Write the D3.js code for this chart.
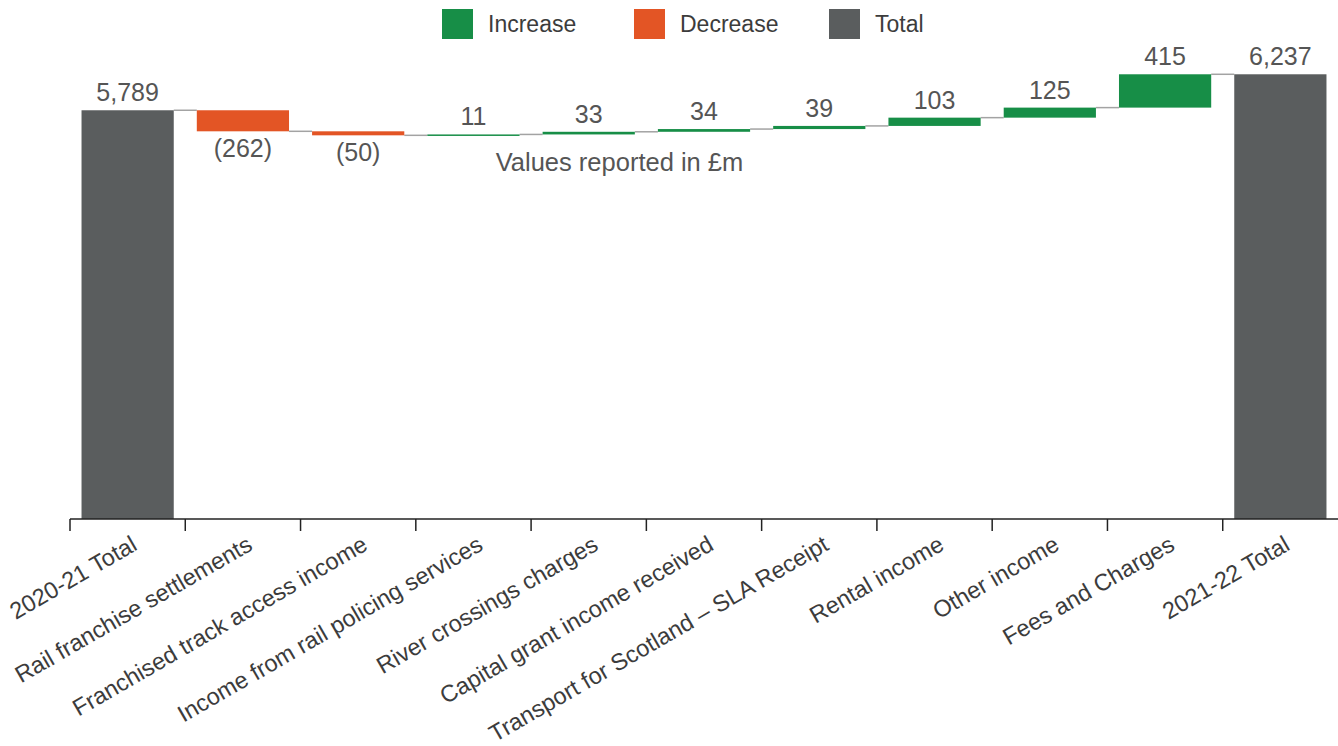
<!DOCTYPE html>
<html>
<head>
<meta charset="utf-8">
<script src="https://cdn.jsdelivr.net/npm/d3@7"></script>
<style>
  html, body { margin: 0; padding: 0; background: #fff; }
  svg { display: block; font-family: "Liberation Sans", Arial, sans-serif; }
</style>
</head>
<body>
<svg id="chart" width="1338" height="746"></svg>
<script>
// Income bridge, 2020-21 to 2021-22 (£m)
const openingLabel = "2020-21 Total";
const openingTotal = 5789;
const closingLabel = "2021-22 Total";
const closingTotal = 6237;
const stepLabels = [
  "Rail franchise settlements",
  "Franchised track access income",
  "Income from rail policing services",
  "River crossings charges",
  "Capital grant income received",
  "Transport for Scotland \u2013 SLA Receipt",
  "Rental income",
  "Other income",
  "Fees and Charges"
];
const stepValues = [-262, -50, 11, 33, 34, 39, 103, 125, 415];
const legendLabels = ["Increase", "Decrease", "Total"];

const colors = { Increase: "#178e47", Decrease: "#e35525", Total: "#5a5d5e" };

// Build running-total rows
const rows = [];
rows.push({ name: openingLabel, kind: "Total", start: null, end: openingTotal, value: openingTotal });
let running = openingTotal;
stepLabels.forEach((name, i) => {
  const v = stepValues[i];
  rows.push({ name, kind: v >= 0 ? "Increase" : "Decrease", start: running, end: running + v, value: v });
  running += v;
});
rows.push({ name: closingLabel, kind: "Total", start: null, end: closingTotal, value: closingTotal });

const svg = d3.select("#chart");
const baseY = 519;

const x = d3.scaleBand()
  .domain(rows.map(d => d.name))
  .range([70, 1338])
  .paddingInner(0.2)
  .paddingOuter(0.1);

const y = d3.scaleLinear()
  .domain([700, 7000])
  .range([baseY, 13]);

const fmt = d3.format(",");
const labelText = d => d.kind === "Decrease" ? "(" + fmt(-d.value) + ")" : fmt(d.value);

// Connectors between consecutive bars
const g = svg.append("g");
rows.slice(0, -1).forEach((d, i) => {
  const next = rows[i + 1];
  g.append("line")
    .attr("x1", x(d.name) + x.bandwidth())
    .attr("x2", x(next.name))
    .attr("y1", y(d.end))
    .attr("y2", y(d.end))
    .attr("stroke", "#a3a3a3")
    .attr("stroke-width", 1.5);
});

// Bars
g.selectAll("rect.bar")
  .data(rows)
  .join("rect")
  .attr("class", "bar")
  .attr("x", d => x(d.name))
  .attr("width", x.bandwidth())
  .attr("y", d => d.kind === "Total" ? y(d.end) : y(Math.max(d.start, d.end)))
  .attr("height", d => {
    if (d.kind === "Total") return baseY - y(d.end);
    return Math.max(1.5, Math.abs(y(d.start) - y(d.end)));
  })
  .attr("fill", d => colors[d.kind]);

// Value labels
g.selectAll("text.val")
  .data(rows)
  .join("text")
  .attr("class", "val")
  .attr("x", d => x(d.name) + x.bandwidth() / 2)
  .attr("y", d => {
    if (d.kind === "Decrease") return y(Math.min(d.start, d.end)) + 26;
    return y(d.end) - 9;
  })
  .attr("text-anchor", "middle")
  .attr("font-size", 25)
  .attr("fill", "#555")
  .text(labelText);

// Category axis with ticks on band boundaries
const axis = svg.append("g");
axis.append("line")
  .attr("x1", x.range()[0]).attr("x2", x.range()[1])
  .attr("y1", baseY).attr("y2", baseY)
  .attr("stroke", "#222").attr("stroke-width", 1.5);
rows.forEach(d => {
  const tx = x(d.name) - x.step() * x.paddingOuter();
  axis.append("line")
    .attr("x1", tx).attr("x2", tx)
    .attr("y1", baseY).attr("y2", baseY + 12)
    .attr("stroke", "#222").attr("stroke-width", 1.5);
});
axis.selectAll("text.cat")
  .data(rows)
  .join("text")
  .attr("class", "cat")
  .attr("text-anchor", "end")
  .attr("font-size", 23.5)
  .attr("fill", "#3c3c3c")
  .attr("transform", d => `translate(${x(d.name) + x.bandwidth() / 2 + 11},${baseY + 30}) rotate(-30)`)
  .text(d => d.name);

// Unit note
svg.append("text")
  .attr("x", 619.5)
  .attr("y", 171)
  .attr("text-anchor", "middle")
  .attr("font-size", 25.5)
  .attr("fill", "#555")
  .text("Values reported in \u00a3m");

// Legend
const legendX = [442, 634, 829];
const legend = svg.append("g");
legendLabels.forEach((name, i) => {
  const lg = legend.append("g").attr("transform", `translate(${legendX[i]},9)`);
  lg.append("rect").attr("width", 31).attr("height", 30).attr("fill", colors[name]);
  lg.append("text").attr("x", 46).attr("y", 23).attr("font-size", 23)
    .attr("fill", "#3c3c3c").text(name);
});
</script>
</body>
</html>
